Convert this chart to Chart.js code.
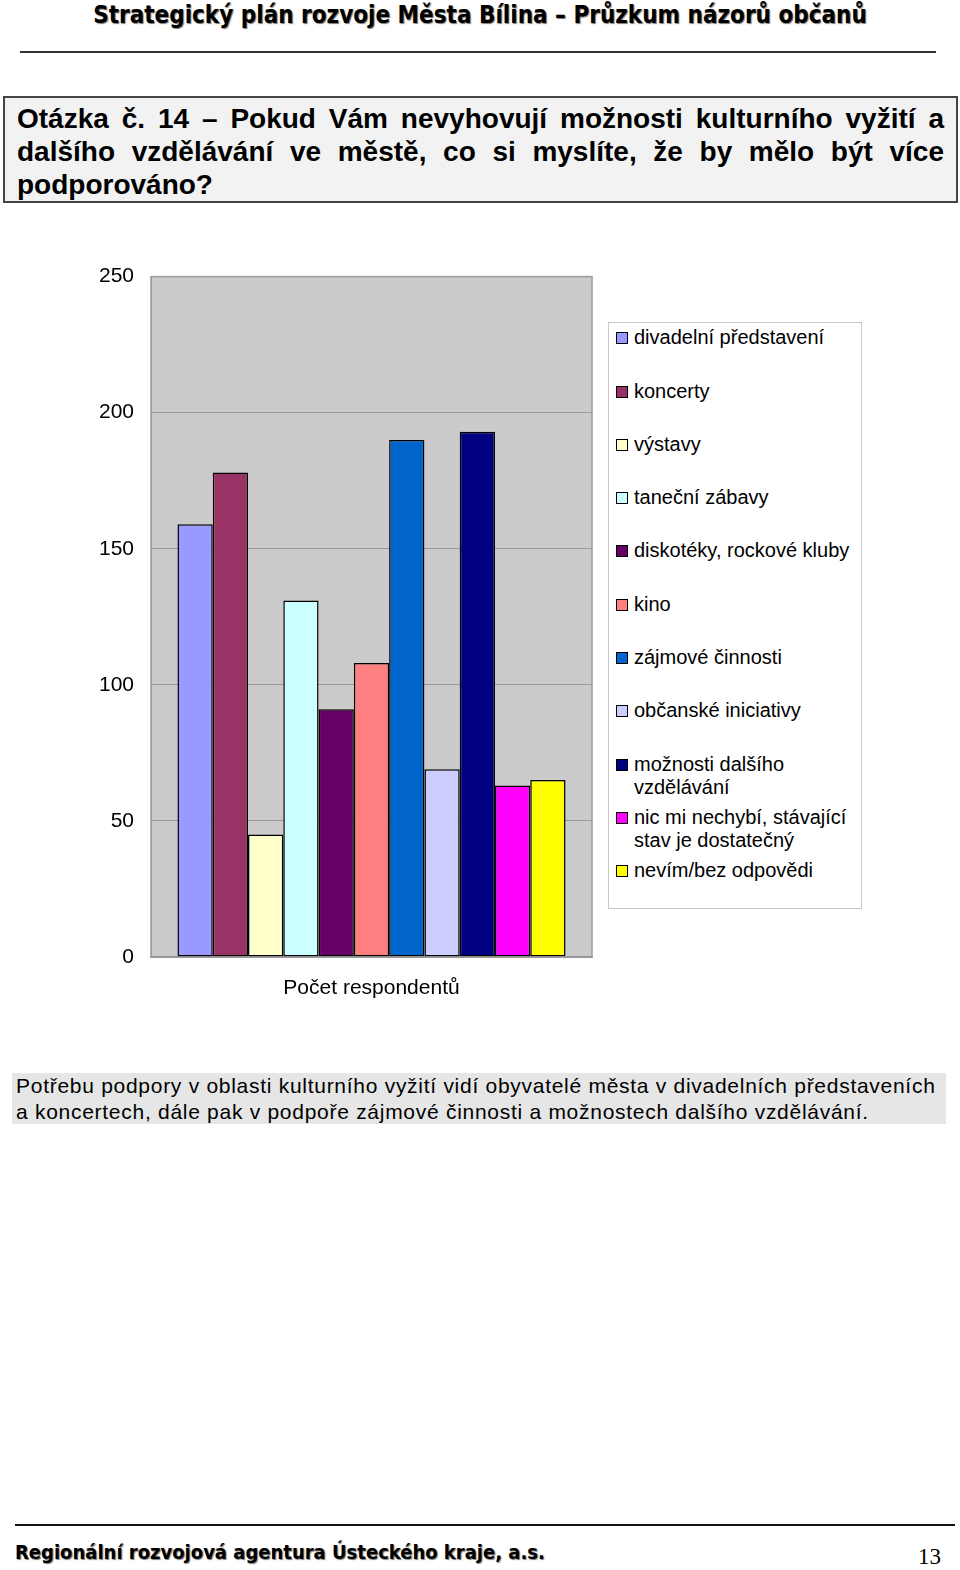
<!DOCTYPE html>
<html lang="cs">
<head>
<meta charset="utf-8">
<script src="https://cdn.jsdelivr.net/npm/chart.js@4.4.1/dist/chart.umd.min.js"></script>
<style>
	body{ margin:0; background:#fff; font-family:"Liberation Sans", Arial, sans-serif; }
	#page{ position:relative; width:960px; height:1570px; overflow:hidden; }
	.deco{ position:absolute; font-family:"DejaVu Sans Condensed","DejaVu Sans",sans-serif; font-stretch:condensed; font-weight:bold; color:#000; text-shadow:1px 1px 1px #777; white-space:nowrap; }
	#head{ left:0; width:960px; top:1px; font-size:24px; text-align:center; }
	#headline{ position:absolute; left:20px; width:916px; top:51px; height:2px; background:#333; }
	#question{ position:absolute; left:3px; top:96px; width:927px; height:79px; padding:4px 12px 20px 12px; border:2px solid #444; background:#f2f2f2; font-weight:bold; font-size:28px; line-height:33px; text-align:justify; }
	#chart{ position:absolute; left:0; top:247px; }
	#legend{ position:absolute; left:608px; top:322px; width:252px; height:585px; border:1px solid #c8c8c8; background:#fff; }
	.item{ position:absolute; left:0; width:250px; font-size:20px; line-height:23.5px; }
	.item .box{ position:absolute; left:7px; top:6px; width:10px; height:10px; border:1px solid #000; }
	.item .txt{ position:absolute; left:25px; width:224px; }
	#summary{ position:absolute; left:12px; top:1073px; width:930px; padding:0 0 0 4px; background:#e6e6e6; font-size:21px; letter-spacing:0.72px; line-height:25.5px; }
	#footline{ position:absolute; left:15px; width:940px; top:1524px; height:2px; background:#111; }
	#foot{ left:15px; top:1540px; font-size:20px; }
	#pagenum{ position:absolute; left:918px; top:1544px; font-family:"Liberation Serif","DejaVu Serif",serif; font-size:23px; }
</style>
</head>
<body>
<div id="page">
	<div id="head" class="deco">Strategický plán rozvoje Města Bílina – Průzkum názorů občanů</div>
	<div id="headline"></div>
	<div id="question">Otázka č. 14 – Pokud Vám nevyhovují možnosti kulturního vyžití a dalšího vzdělávání ve městě, co si myslíte, že by mělo být více podporováno?</div>
	<canvas id="chart" width="600" height="776"></canvas>
	<div id="legend"></div>
	<div id="summary">Potřebu podpory v oblasti kulturního vyžití vidí obyvatelé města v divadelních představeních a koncertech, dále pak v podpoře zájmové činnosti a možnostech dalšího vzdělávání.</div>
	<div id="footline"></div>
	<div id="foot" class="deco">Regionální rozvojová agentura Ústeckého kraje, a.s.</div>
	<div id="pagenum">13</div>
</div>
<script>
const CATEGORY = ["Počet respondentů"];

const LABELS = [
	"divadelní představení",
	"koncerty",
	"výstavy",
	"taneční zábavy",
	"diskotéky, rockové kluby",
	"kino",
	"zájmové činnosti",
	"občanské iniciativy",
	"možnosti dalšího vzdělávání",
	"nic mi nechybí, stávající stav je dostatečný",
	"nevím/bez odpovědi"
];

const VALUES = [159, 178, 45, 131, 91, 108, 190, 69, 193, 63, 65];

const COLORS = ["#9999ff", "#993366", "#ffffcc", "#ccffff", "#660066", "#ff8080", "#0066cc", "#ccccff", "#000080", "#ff00ff", "#ffff00"];

const Y_TICKS = [0, 50, 100, 150, 200, 250];

//Sfondo grigio e bordo dell'area del grafico.
const plotArea = {
	id: "plotArea",
	beforeDraw(chart){
		const a = chart.chartArea, ctx = chart.ctx;
		ctx.save();
		ctx.fillStyle = "#cbcbcb";
		ctx.fillRect(a.left, a.top, a.right - a.left, a.bottom - a.top);
		ctx.restore();
	},
	afterDraw(chart){
		const a = chart.chartArea, ctx = chart.ctx;
		ctx.save();
		ctx.strokeStyle = "#9c9c9c";
		ctx.lineWidth = 1.5;
		ctx.strokeRect(a.left, a.top, a.right - a.left, a.bottom - a.top);
		ctx.restore();
	}
};

const datasets = LABELS.map((l, i) => ({
	label: l,
	data: [VALUES[i]],
	backgroundColor: COLORS[i],
	borderColor: "#000",
	borderWidth: 1.5,
	borderSkipped: false
}));

new Chart(document.getElementById("chart"), {
	type: "bar",
	data: { labels: CATEGORY, datasets: datasets },
	options: {
		responsive: false,
		animation: false,
		layout: { padding: { top: 0, right: 8, bottom: 0, left: 0 } },
		datasets: { bar: { categoryPercentage: 0.88, barPercentage: 1.0 } },
		plugins: { legend: { display: false }, tooltip: { enabled: false } },
		scales: {
			x: {
				grid: { display: false, drawTicks: false },
				border: { display: true, color: "#888", width: 1.5 },
				ticks: { color: "#000", font: { family: "Liberation Sans", size: 21 }, padding: 19 },
				afterFit: s => { s.height = 66; }
			},
			y: {
				min: 0,
				max: 250,
				afterBuildTicks: s => { s.ticks = Y_TICKS.map(v => ({ value: v })); },
				grid: { color: "#999", lineWidth: 1, drawTicks: false },
				border: { display: true, color: "#9c9c9c" },
				ticks: { color: "#000", font: { family: "Liberation Sans", size: 21 }, padding: 17 },
				afterFit: s => { s.width = 151; }
			}
		}
	},
	plugins: [plotArea]
});

//Legenda HTML costruita dagli stessi array.
const legend = document.getElementById("legend");
LABELS.forEach((l, i) => {
	const item = document.createElement("div");
	item.className = "item";
	item.style.top = (15 + i * 53.3 - 11.75) + "px";
	item.innerHTML = '<span class="box" style="background:' + COLORS[i] + '"></span><span class="txt">' + l + '</span>';
	legend.appendChild(item);
});
</script>
</body>
</html>
